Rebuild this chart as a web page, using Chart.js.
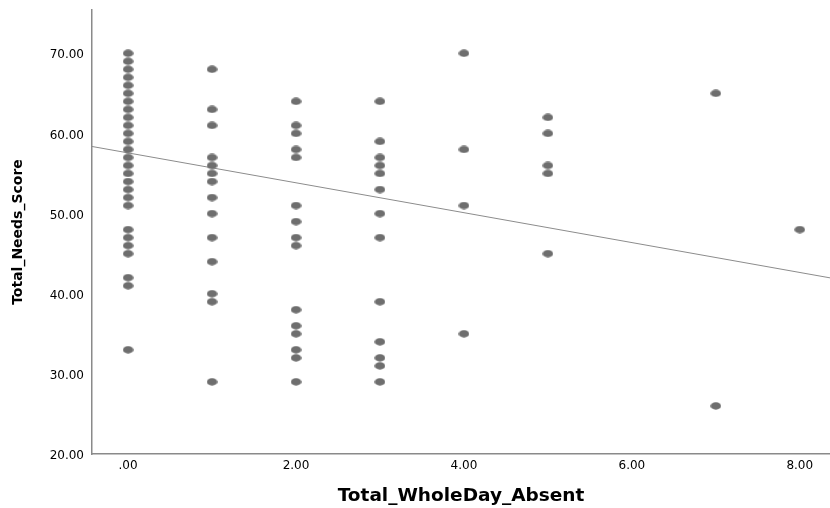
<!DOCTYPE html>
<html lang="en">
<head>
<meta charset="UTF-8">
<title>Total_Needs_Score by Total_WholeDay_Absent</title>
<script src="https://cdn.jsdelivr.net/npm/chart.js"></script>
<style>
    html, body { margin: 0; padding: 0; background: #fff; overflow: hidden; }
    #wrap { width: 830px; height: 508px; }
    canvas { display: block; }
</style>
</head>
<body>
<div id="wrap"><canvas id="chart" width="830" height="508"></canvas></div>
<script>
    // values, one array per x column
    const absent0 = [70, 69, 68, 67, 66, 65, 64, 63, 62, 61, 60, 59, 58, 57, 56, 55, 54, 53, 52, 51, 48, 47, 46, 45, 42, 41, 33];
    const absent1 = [68, 63, 61, 57, 56, 55, 54, 52, 50, 47, 44, 40, 39, 29];
    const absent2 = [64, 61, 60, 58, 57, 51, 49, 47, 46, 38, 36, 35, 33, 32, 29];
    const absent3 = [64, 59, 57, 56, 55, 53, 50, 47, 39, 34, 32, 31, 29];
    const absent4 = [70, 58, 51, 35];
    const absent5 = [62, 60, 56, 55, 45];
    const absent7 = [65, 26];
    const absent8 = [48];

    const xTicks = [0, 2, 4, 6, 8];
    const yTicks = [20, 30, 40, 50, 60, 70];

    // linear fit line as drawn
    const fitIntercept = 57.57;
    const fitSlope = -1.865;

    const xMin = -0.43, xMax = 8.36;
    const yMin = 20, yMax = 75.4;

    const columns = [[0, absent0], [1, absent1], [2, absent2], [3, absent3], [4, absent4], [5, absent5], [7, absent7], [8, absent8]];
    const points = [];
    columns.forEach(([x, ys]) => ys.forEach(y => points.push({ x: x, y: y })));

    const fitLine = [xMin, xMax].map(x => ({ x: x, y: fitIntercept + fitSlope * x }));

    // small ellipse marker like the original
    const dot = document.createElement('canvas');
    dot.width = 11;
    dot.height = 8;
    const dctx = dot.getContext('2d');
    dctx.fillStyle = '#6e6e6e';
    dctx.beginPath();
    dctx.ellipse(5.5, 4, 5.3, 3.7, 0, 0, Math.PI * 2);
    dctx.fill();

    const fmt = v => v === 0 ? '.00' : v.toFixed(2);
    const font = 'DejaVu Sans';

    new Chart(document.getElementById('chart'), {
        type: 'scatter',
        data: {
            datasets: [{
                data: points,
                pointStyle: dot,
                pointRadius: 5,
                pointHoverRadius: 5
            }, {
                type: 'line',
                data: fitLine,
                borderColor: '#8c8c8c',
                borderWidth: 1,
                pointRadius: 0,
                fill: false
            }]
        },
        options: {
            responsive: false,
            animation: false,
            layout: { autoPadding: false, padding: { top: 10, right: 0, left: 0, bottom: 0 } },
            plugins: {
                legend: { display: false },
                tooltip: { enabled: false }
            },
            scales: {
                x: {
                    type: 'linear',
                    min: xMin,
                    max: xMax,
                    afterBuildTicks: s => { s.ticks = xTicks.map(v => ({ value: v })); },
                    afterFit: s => {
                        s.height = 54;
                        s.paddingLeft = 0;
                        s.paddingRight = 0;
                    },
                    grid: { drawOnChartArea: false, drawTicks: false },
                    border: { color: '#8a8a8a', width: 1.5 },
                    ticks: {
                        color: '#000',
                        font: { family: font, size: 12 },
                        padding: 5,
                        callback: fmt
                    },
                    title: {
                        display: true,
                        text: 'Total_WholeDay_Absent',
                        color: '#000',
                        font: { family: font, size: 18.5, weight: 'bold' },
                        padding: { top: 10, bottom: 1 }
                    }
                },
                y: {
                    min: yMin,
                    max: yMax,
                    afterBuildTicks: s => { s.ticks = yTicks.map(v => ({ value: v })); },
                    afterFit: s => {
                        s.width = 92;
                        s.paddingTop = 0;
                        s.paddingBottom = 0;
                    },
                    grid: { drawOnChartArea: false, drawTicks: false },
                    border: { color: '#8a8a8a', width: 1.5 },
                    ticks: {
                        color: '#000',
                        font: { family: font, size: 12 },
                        padding: 8,
                        labelOffset: 2,
                        callback: fmt
                    },
                    title: {
                        display: true,
                        text: 'Total_Needs_Score',
                        color: '#000',
                        font: { family: font, size: 14, weight: 'bold' },
                        padding: { top: 10, bottom: 0 }
                    }
                }
            }
        }
    });
</script>
</body>
</html>
